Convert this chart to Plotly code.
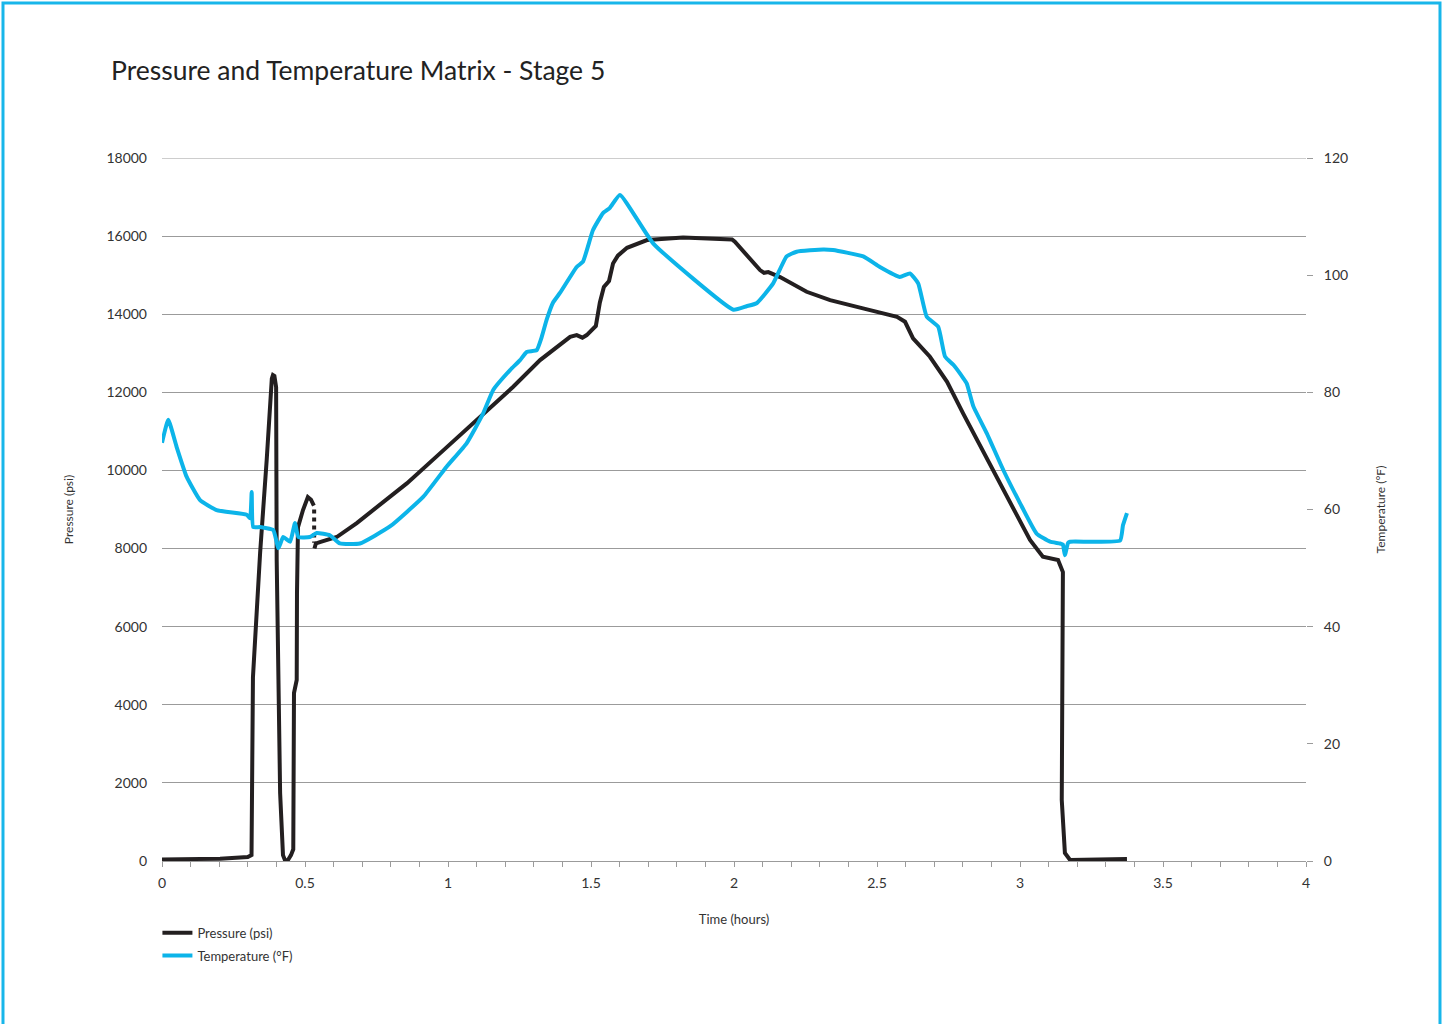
import plotly.graph_objects as go

# ---------------- data ----------------
pressure_time = [0.0, 0.203, 0.300, 0.313, 0.318, 0.343, 0.366, 0.380, 0.384, 0.388, 0.393, 0.399,
                 0.401, 0.413, 0.423, 0.430, 0.440, 0.451, 0.459, 0.4615, 0.471, 0.472, 0.4755,
                 0.493, 0.510, 0.521, 0.531, None,
                 0.533, 0.538, 0.552, 0.611, 0.681, 0.739, 0.856, 0.972, 1.112, 1.228, 1.322,
                 1.427, 1.450, 1.470, 1.485, 1.497, 1.517, 1.531, 1.545, 1.563, 1.577, 1.594,
                 1.626, 1.696, 1.822, 1.993, 2.003, 2.091, 2.105, 2.120, 2.161, 2.254, 2.336,
                 2.451, 2.570, 2.598, 2.626, 2.685, 2.745, 2.801, 2.920, 3.035, 3.080, 3.105,
                 3.133, 3.150, 3.149, 3.146, 3.157, 3.175, 3.374]
pressure_psi = [40, 60, 100, 150, 4700, 7885, 10266, 11981, 12350, 12442, 12420, 12135,
                7706, 1741, 150, 20, 20, 150, 300, 4300, 4634, 6860, 8550,
                8986, 9319, 9250, 9100, None,
                8000, 8130, 8167, 8295, 8653, 8986, 9669, 10437, 11375, 12143, 12826,
                13422, 13466, 13400, 13466, 13550, 13700, 14300, 14700, 14850, 15300, 15500,
                15700, 15898, 15967, 15916, 15856, 15130, 15060, 15080, 14950, 14575, 14362,
                14150, 13935, 13807, 13380, 12911, 12271, 11461, 9839, 8218, 7790, 7740,
                7706, 7399, 3277, 1562, 205, 26, 51]

# dotted vertical connector in the pressure trace
connector_time = [0.532, 0.532]
connector_psi = [9000, 8150]

temperature_time = [0.0, 0.022, 0.051, 0.086, 0.133, 0.191, 0.296, 0.308, 0.3136, 0.319,
                    0.343, 0.389, 0.407, 0.424, 0.448, 0.465, 0.477, 0.517, 0.541, 0.587,
                    0.622, 0.692, 0.797, 0.914, 0.995, 1.065, 1.123, 1.158, 1.217, 1.252,
                    1.275, 1.310, 1.328, 1.345, 1.367, 1.392, 1.450, 1.472, 1.507, 1.542,
                    1.566, 1.601, 1.718, 1.998, 2.044, 2.079, 2.137, 2.184, 2.219, 2.312,
                    2.346, 2.452, 2.510, 2.580, 2.615, 2.644, 2.674, 2.714, 2.738, 2.767,
                    2.802, 2.814, 2.837, 2.884, 2.942, 3.000, 3.058, 3.105, 3.140, 3.150,
                    3.157, 3.168, 3.175, 3.350, 3.360, 3.374]
temperature_f = [71.4, 75.3, 70.7, 65.6, 61.6, 59.9, 59.1, 58.5, 63.0, 57.0,
                 57.0, 56.5, 53.4, 55.3, 54.5, 57.7, 55.3, 55.3, 56.0, 55.6,
                 54.2, 54.2, 57.1, 62.2, 67.3, 71.3, 76.4, 80.4, 83.8, 85.5,
                 86.9, 87.2, 89.5, 92.4, 95.3, 97.0, 101.4, 102.3, 107.7, 110.6,
                 111.5, 113.7, 105.4, 94.1, 94.7, 95.2, 98.6, 103.2, 104.0, 104.4,
                 104.3, 103.2, 101.4, 99.7, 100.3, 98.6, 92.9, 91.2, 86.1, 84.7,
                 82.4, 81.5, 77.6, 73.0, 66.7, 61.1, 55.9, 54.5, 54.2, 54.0,
                 52.2, 54.3, 54.5, 54.7, 57.3, 59.4]

x_ticks = [0, 0.5, 1, 1.5, 2, 2.5, 3, 3.5, 4]
x_tick_labels = ["0", "0.5", "1", "1.5", "2", "2.5", "3", "3.5", "4"]
pressure_ticks = [0, 2000, 4000, 6000, 8000, 10000, 12000, 14000, 16000, 18000]
pressure_tick_labels = ["0", "2000", "4000", "6000", "8000", "10000", "12000", "14000", "16000", "18000"]
temperature_ticks = [0, 20, 40, 60, 80, 100, 120]
temperature_tick_labels = ["0", "20", "40", "60", "80", "100", "120"]

# ---------------- styling ----------------
BLACK = "#231F20"
CYAN = "#0CB4E9"
GRID = "#9B9B9B"
TEXT = "#333333"
FONT = "Lato, sans-serif"

fig = go.Figure()

fig.add_trace(go.Scatter(
    x=pressure_time, y=pressure_psi, name="Pressure (psi)", mode="lines",
    line=dict(color=BLACK, width=4), legendgroup="p", connectgaps=False,
))
fig.add_trace(go.Scatter(
    x=connector_time, y=connector_psi, mode="lines", showlegend=False,
    line=dict(color=BLACK, width=4, dash="dot"), legendgroup="p",
))
fig.add_trace(go.Scatter(
    x=temperature_time, y=temperature_f, name="Temperature (°F)", mode="lines",
    line=dict(color=CYAN, width=4, shape="spline", smoothing=0.4), yaxis="y2", legendgroup="t",
))

fig.update_layout(
    width=1443, height=1024,
    margin=dict(l=162, r=137, t=158, b=163),
    paper_bgcolor="white", plot_bgcolor="white",
    font=dict(family=FONT, color=TEXT, size=14),
    title=dict(text="Pressure and Temperature Matrix - Stage 5",
               font=dict(family=FONT, size=26.5, color="#222222"),
               x=111 / 1443, xref="container", xanchor="left",
               y=1 - 71 / 1024, yref="container", yanchor="middle"),
    xaxis=dict(range=[0, 4], tickvals=x_ticks, ticktext=x_tick_labels, showgrid=False, zeroline=False,
               showline=True, linecolor=GRID, linewidth=1,
               ticks="outside", ticklen=5, tickcolor=GRID,
               minor=dict(dtick=0.1, tick0=0, ticks="outside", ticklen=5, tickcolor=GRID, showgrid=False),
               tickfont=dict(size=14, color=TEXT), ticklabelstandoff=4,
               title=dict(text="Time (hours)", font=dict(size=13, color=TEXT), standoff=25)),
    yaxis=dict(range=[0, 18000], tickvals=pressure_ticks, ticktext=pressure_tick_labels,
               showgrid=True, gridcolor=GRID, gridwidth=1,
               zeroline=False, showline=False, ticks="", tickfont=dict(size=14, color=TEXT),
               ticklabelstandoff=14,
               title=dict(text="Pressure (psi)", font=dict(size=12, color=TEXT), standoff=30)),
    yaxis2=dict(range=[0, 120], tickvals=temperature_ticks, ticktext=temperature_tick_labels,
                overlaying="y", side="right",
                showgrid=False, zeroline=False, showline=False,
                ticks="outside", ticklen=6, tickcolor=GRID, tickfont=dict(size=14, color=TEXT),
                ticklabelstandoff=8,
                title=dict(text="Temperature (°F)", font=dict(size=12, color=TEXT), standoff=29)),
    legend=dict(x=-0.004, xanchor="left", y=-0.0807, yanchor="top", orientation="v",
                font=dict(size=13, color=TEXT), tracegroupgap=3, bgcolor="rgba(0,0,0,0)"),
    shapes=[
        # top gridline (plotly omits the gridline at the range edge)
        dict(type="line", xref="paper", yref="y", x0=0, x1=1,
             y0=pressure_ticks[-1], y1=pressure_ticks[-1],
             line=dict(color=GRID, width=1), layer="below"),
        # page border
        dict(type="rect", xref="paper", yref="paper",
             x0=-0.13899, x1=1.11713, y0=-0.2404, y1=1.22048,
             line=dict(color="#18B6EA", width=3), fillcolor="rgba(0,0,0,0)", layer="above"),
    ],
)

fig.write_html("out.html", config={"displayModeBar": False},
               post_script="document.body.style.margin='0';document.body.style.overflow='hidden';")
